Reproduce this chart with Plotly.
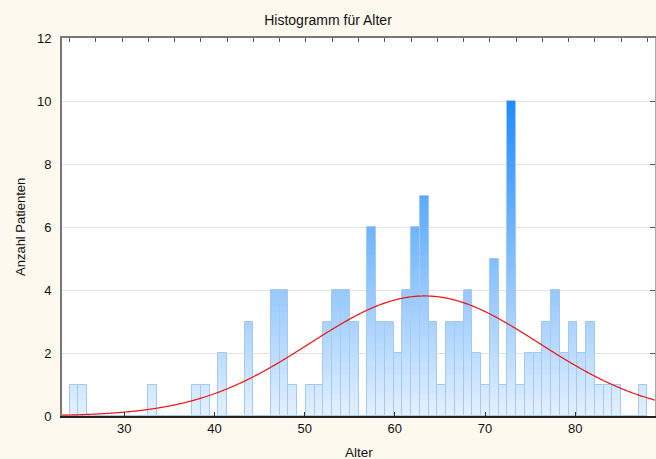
import numpy as np
import plotly.graph_objects as go

# Histogram of patient ages: 66 equal-width bins
bin_start = 23.94
bin_width = 0.9706
counts = [1, 1, 0, 0, 0, 0, 0, 0, 0, 1,
          0, 0, 0, 0, 1, 1, 0, 2, 0, 0,
          3, 0, 0, 4, 4, 1, 0, 1, 1, 3,
          4, 4, 3, 0, 6, 3, 3, 2, 4, 6,
          7, 3, 1, 3, 3, 4, 2, 1, 5, 1,
          10, 1, 2, 2, 3, 4, 2, 3, 2, 3,
          1, 1, 1, 0, 0, 1]

# Fitted normal distribution
fit_mean = 63.3
fit_sd = 12.7

x_range = [23.09, 88.85]
y_range = [0, 12]
x_ticks = [30, 40, 50, 60, 70, 80]
y_ticks = [0, 2, 4, 6, 8, 10, 12]

n_bins = len(counts)
edges = bin_start + bin_width * np.arange(n_bins + 1)
centers = edges[:-1] + bin_width / 2
n_total = sum(counts)

def level_color(v):
    # colour depends on the height level: pale at 0, saturated blue at 10
    t = min(max(v / 10.0, 0.0), 1.0)
    lo = np.array([228, 240, 255])
    hi = np.array([30, 140, 255])
    c = lo + (hi - lo) * t
    return "rgb(%d,%d,%d)" % tuple(c.round())

# vertical gradient: each bar is stacked from thin slices
step = 0.1
seg_x, seg_base, seg_h, seg_col = [], [], [], []
for cx, c in zip(centers, counts):
    k = int(round(c / step))
    for j in range(k):
        b = j * step
        seg_x.append(cx)
        seg_base.append(b)
        seg_h.append(step)
        seg_col.append(level_color(b + step / 2))

fig = go.Figure()
fig.add_trace(go.Bar(
    x=seg_x, y=seg_h, base=seg_base, width=bin_width,
    marker=dict(color=seg_col, line=dict(width=0)),
    hoverinfo="skip", showlegend=False,
))
fig.add_trace(go.Bar(
    x=centers, y=counts, width=bin_width,
    marker=dict(color="rgba(0,0,0,0)", line=dict(color="#a6c9f0", width=1)),
    showlegend=False,
))

xs = np.linspace(x_range[0], x_range[1], 400)
pdf = np.exp(-0.5 * ((xs - fit_mean) / fit_sd) ** 2) / (fit_sd * np.sqrt(2 * np.pi))
fig.add_trace(go.Scatter(
    x=xs, y=n_total * bin_width * pdf, mode="lines",
    line=dict(color="#ee1111", width=1.2, shape="spline"), showlegend=False,
))

# mirrored top / right axes carrying only inside ticks
fig.add_trace(go.Scatter(x=[None], y=[None], xaxis="x2", yaxis="y2", showlegend=False))

font_family = "Liberation Sans, Arial, sans-serif"
fig.update_layout(
    width=656, height=459,
    margin=dict(l=62, r=1, t=38, b=43),
    paper_bgcolor="#fdf9ef",
    plot_bgcolor="#ffffff",
    barmode="overlay",
    bargap=0,
    font=dict(family=font_family, size=13, color="#111111"),
    title=dict(text="Histogramm für Alter", x=0.5, xanchor="center",
               y=1 - 20 / 459, yanchor="middle", yref="container",
               font=dict(size=14, color="#111111")),
    xaxis=dict(range=x_range, tickvals=x_ticks, ticks="inside", ticklen=4,
               tickcolor="#333333", showgrid=False, zeroline=False,
               showline=True, linecolor="#222222", linewidth=1.5,
               tickfont=dict(size=13)),
    yaxis=dict(range=y_range, tickvals=y_ticks, ticks="", showgrid=True,
               gridcolor="#e2e2e2", gridwidth=1, zeroline=False,
               showline=True, linecolor="#777777", linewidth=2,
               ticklabelstandoff=6, tickfont=dict(size=13)),
    xaxis2=dict(range=x_range, overlaying="x", side="top",
                tickvals=list(edges[::3]), ticks="inside", ticklen=4,
                tickcolor="#555555", showticklabels=False, showgrid=False,
                zeroline=False, showline=True, linecolor="#777777", linewidth=1.5),
    yaxis2=dict(range=y_range, overlaying="y", side="right",
                tickvals=y_ticks, ticks="inside", ticklen=5,
                tickcolor="#555555", showticklabels=False, showgrid=False,
                zeroline=False, showline=True, linecolor="#aaaaaa", linewidth=1.5),
)

# axis titles
fig.add_annotation(text="Alter", xref="paper", yref="paper", x=0.5, y=0,
                   yshift=-36, showarrow=False, yanchor="middle",
                   font=dict(size=13.5, color="#111111"))
fig.add_annotation(text="Anzahl Patienten", xref="paper", yref="paper",
                   x=0, y=0.5, xshift=-42, textangle=-90, showarrow=False,
                   xanchor="center", yanchor="middle",
                   font=dict(size=13, color="#111111"))

fig.write_html("out.html")
